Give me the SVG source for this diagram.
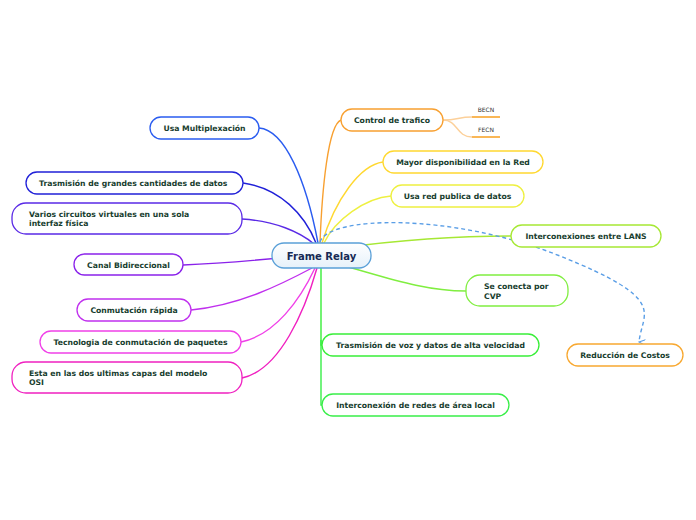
<svg xmlns="http://www.w3.org/2000/svg" width="696" height="520" viewBox="0 0 696 520">
<defs>
<style>
.n rect{fill:#fff;stroke-width:1.3}
.n text{font-family:"DejaVu Sans",Verdana,sans-serif;font-weight:bold;font-size:7.7px;fill:#173d2e}
.c path{fill:none;stroke-width:1.4}
.s{font-family:"DejaVu Sans",Verdana,sans-serif;font-size:6px;fill:#333}
</style>
<linearGradient id="g" x1="0" y1="0" x2="0" y2="1"><stop offset="0" stop-color="#ffffff"/><stop offset="1" stop-color="#e6f1fa"/></linearGradient>
<marker id="ar" viewBox="0 0 10 10" refX="5" refY="9" markerWidth="5" markerHeight="5" orient="auto-start-reverse"><path d="M1 0 L5 9 L9 0" fill="none" stroke="#5a9ee6" stroke-width="1.5"/></marker>
</defs>
<rect width="696" height="520" fill="#fff"/>
<g id="connectors" class="c">
<path d="M259 128 C285 130 306 180 318 243" stroke="#2a5cf0" stroke-width="1.6"/>
<path d="M243 183 C280 188 305 215 316 243" stroke="#2020d8" stroke-width="1.6"/>
<path d="M242 219 C275 221 300 232 314 244" stroke="#5a2ae6" stroke-width="1.6"/>
<path d="M183 265 C230 263 260 260 300 256" stroke="#8a22ea" stroke-width="1.6"/>
<path d="M191 310 C240 305 280 285 312 268" stroke="#c030ee" stroke-width="1.6"/>
<path d="M241 342 C275 335 300 300 315 268" stroke="#f040e8" stroke-width="1.6"/>
<path d="M242 378 C280 370 305 310 317 268" stroke="#f020c0" stroke-width="1.6"/>
<path d="M341 120 C328 125 322 190 320 243" stroke="#f8a030" stroke-width="1.6"/>
<path d="M383 162 C360 165 335 200 322 243" stroke="#ffd830" stroke-width="1.6"/>
<path d="M391 196 C365 198 335 220 324 243" stroke="#eef040" stroke-width="1.6"/>
<path d="M340 248 C400 240 450 236 511 236" stroke="#a6e834" stroke-width="1.6"/>
<path d="M330 262 C380 275 420 291 466 291" stroke="#80ee40" stroke-width="1.6"/>
<path d="M321 268 L321 345 L322 345" stroke="#38ee38" stroke-width="2"/>
<path d="M321 340 L321 405 L322 405" stroke="#38ee48" stroke-width="1.2"/>
<path d="M443 120 C458 120 458 117 472 117" stroke="#fcd09a" stroke-width="1"/>
<path d="M443 120 C458 120 456 137 472 137" stroke="#fcd09a" stroke-width="1"/>
<path d="M472 117 L500 117 M472 137 L500 137" stroke="#f8a020" stroke-width="1.6"/>
<path d="M320 242 C328 216 450 212 560 256 S642 312 639 342" stroke="#5a9ee6" stroke-width="1" stroke-dasharray="4 3" marker-end="url(#ar)"/>
</g>
<g id="center" class="n"><rect x="272" y="243" width="99" height="25" rx="12" style="fill:url(#g)" stroke="#5aa0d8"/><text x="321.5" y="259.5" text-anchor="middle" style="font-size:10px;fill:#172a55">Frame Relay</text></g>
<g id="n1" class="n"><rect x="150" y="117" width="109" height="22" rx="11" stroke="#2a5cf0"/><text x="204.5" y="131" text-anchor="middle">Usa Multiplexación</text></g>
<g id="n2" class="n"><rect x="26" y="172" width="217" height="22" rx="11" stroke="#2020d8"/><text x="39" y="186">Trasmisión de grandes cantidades de datos</text></g>
<g id="n3" class="n"><rect x="12" y="203" width="230" height="31" rx="14" stroke="#5a2ae6"/><text x="29" y="216.5">Varios circuitos virtuales en una sola</text><text x="29" y="226">interfaz física</text></g>
<g id="n4" class="n"><rect x="74" y="254" width="109" height="21" rx="10.5" stroke="#8a22ea"/><text x="128.5" y="267.5" text-anchor="middle">Canal Bidireccional</text></g>
<g id="n5" class="n"><rect x="77" y="299" width="114" height="22" rx="11" stroke="#c030ee"/><text x="134" y="313" text-anchor="middle">Conmutación rápida</text></g>
<g id="n6" class="n"><rect x="40" y="331" width="201" height="22" rx="11" stroke="#f040e8"/><text x="140.5" y="345" text-anchor="middle">Tecnologia de conmutación de paquetes</text></g>
<g id="n7" class="n"><rect x="12" y="362" width="230" height="31" rx="14" stroke="#f020c0"/><text x="29" y="375.5">Esta en las dos ultimas capas del modelo</text><text x="29" y="385">OSI</text></g>
<g id="n8" class="n"><rect x="341" y="109" width="102" height="22" rx="11" stroke="#f8a030"/><text x="392" y="123" text-anchor="middle">Control de trafico</text></g>
<g id="becn"><text class="s" x="486" y="112" text-anchor="middle">BECN</text></g>
<g id="fecn"><text class="s" x="486" y="132" text-anchor="middle">FECN</text></g>
<g id="n9" class="n"><rect x="383" y="151" width="160" height="22" rx="11" stroke="#ffd830"/><text x="463" y="165" text-anchor="middle">Mayor disponibilidad en la Red</text></g>
<g id="n10" class="n"><rect x="391" y="185" width="133" height="22" rx="11" stroke="#eef040"/><text x="457.5" y="199" text-anchor="middle">Usa red publica de datos</text></g>
<g id="n11" class="n"><rect x="511" y="225" width="150" height="22" rx="11" stroke="#a6e834"/><text x="586" y="239" text-anchor="middle">Interconexiones entre LANS</text></g>
<g id="n12" class="n"><rect x="466" y="275" width="102" height="31" rx="14" stroke="#80ee40"/><text x="484" y="289">Se conecta por</text><text x="484" y="298.5">CVP</text></g>
<g id="n13" class="n"><rect x="322" y="334" width="217" height="22" rx="11" stroke="#38ee38"/><text x="430.5" y="348" text-anchor="middle">Trasmisión de voz y datos de alta velocidad</text></g>
<g id="n14" class="n"><rect x="322" y="394" width="187" height="22" rx="11" stroke="#38ee48"/><text x="415.5" y="408" text-anchor="middle">Interconexión de redes de área local</text></g>
<g id="n15" class="n"><rect x="567" y="344" width="116" height="22" rx="11" stroke="#f8a830"/><text x="625" y="358" text-anchor="middle">Reducción de Costos</text></g>
</svg>
